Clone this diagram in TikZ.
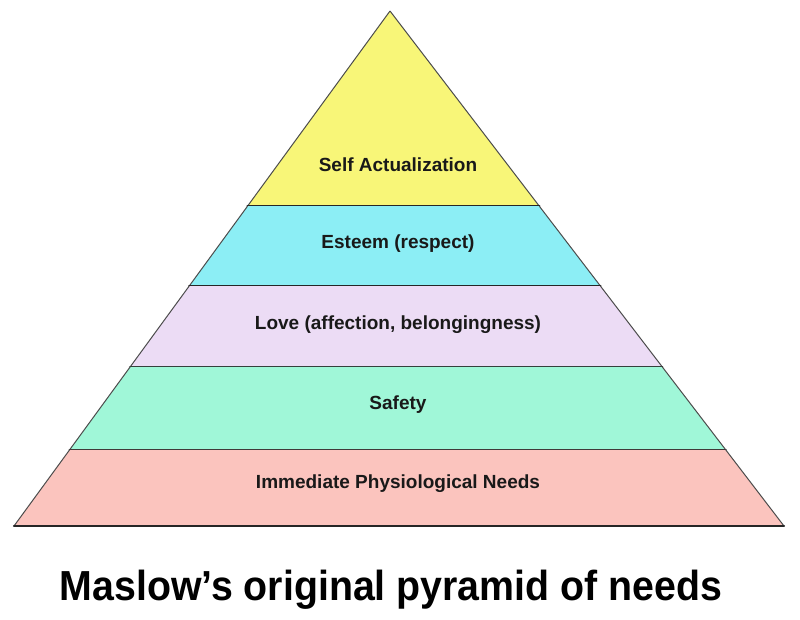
\documentclass[tikz,border=0pt]{standalone}
\usepackage{fontspec}
\setmainfont{Liberation Sans}
\usetikzlibrary{calc}

\definecolor{selfcol}{RGB}{248,246,120}
\definecolor{esteemcol}{RGB}{140,238,245}
\definecolor{lovecol}{RGB}{236,220,245}
\definecolor{safecol}{RGB}{160,247,216}
\definecolor{physcol}{RGB}{251,196,190}

\begin{document}
\begin{tikzpicture}[x=1pt, y=-1pt,
	sideline/.style={line width=1pt, black!70},
	floorline/.style={line width=2.4pt, black!85, line cap=round},
	layerlabel/.style={font=\fontsize{19}{22}\selectfont\bfseries, text=black!90, inner sep=0pt}]
	\useasboundingbox (0,0) rectangle (800,619);
	\coordinate (apex) at (390,11);
	\coordinate (bl) at (14,526);
	\coordinate (br) at (784,526);
	\foreach \i/\ta/\tb/\col/\ly/\txt in {
		1/0/0.379/selfcol/165/Self Actualization,
		2/0.379/0.534/esteemcol/244/Esteem (respect),
		3/0.534/0.691/lovecol/325/{Love (affection, belongingness)},
		4/0.691/0.852/safecol/405/Safety,
		5/0.852/1/physcol/484/Immediate Physiological Needs} {
		\fill[\col] ($(apex)!\ta!(bl)$) -- ($(apex)!\tb!(bl)$) -- ($(apex)!\tb!(br)$) -- ($(apex)!\ta!(br)$) -- cycle;
		\draw[sideline] ($(apex)!\ta!(bl)$) -- ($(apex)!\tb!(bl)$) ($(apex)!\ta!(br)$) -- ($(apex)!\tb!(br)$);
		\draw[floorline] ($(apex)!\tb!(bl)$) -- ($(apex)!\tb!(br)$);
		\node[layerlabel] (lvl\i) at (398,\ly) {\txt};
	}
	\node[font=\fontsize{42}{48}\selectfont\bfseries, inner sep=0pt] (title) at (391,590) {\scalebox{0.936}[1]{Maslow’s original pyramid of needs}};
\end{tikzpicture}
\end{document}
